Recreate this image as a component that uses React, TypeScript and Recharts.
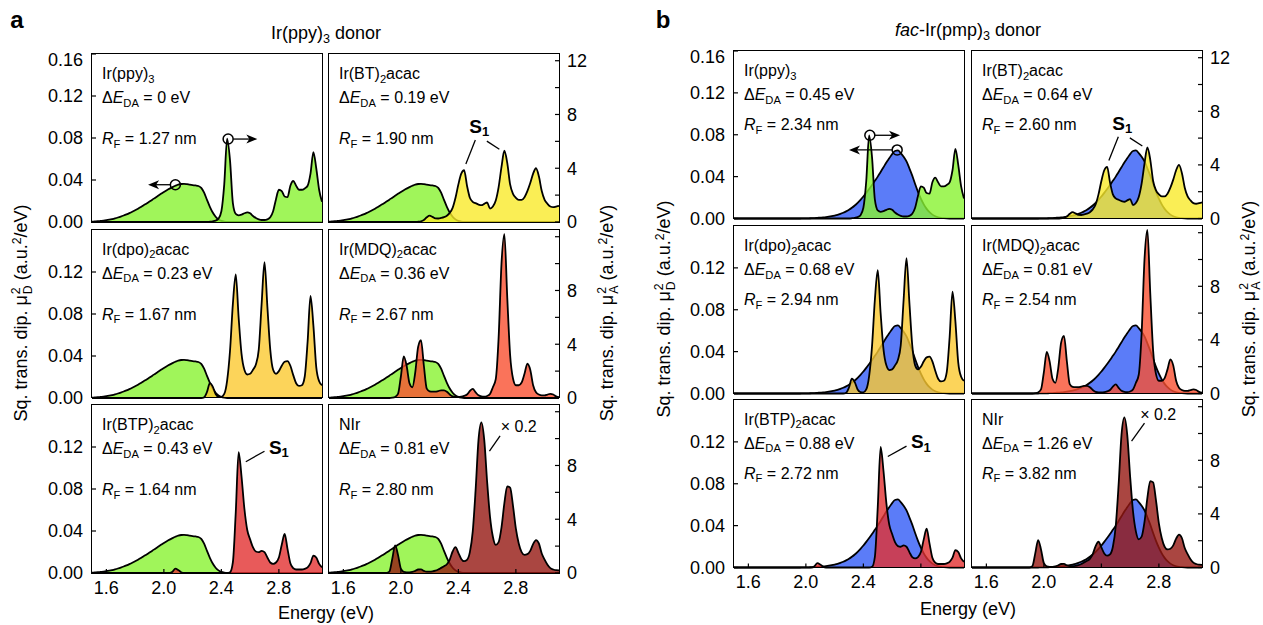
import React from 'react';
import { Area, ComposedChart, ReferenceDot, ReferenceLine, XAxis, YAxis } from 'recharts';

const FONT = "'Liberation Sans', Arial, Helvetica, sans-serif";

// photon energy grid (eV)
const energy = [
  1.5, 1.52, 1.54, 1.56, 1.58, 1.6, 1.62, 1.64, 1.66, 1.68,
  1.7, 1.72, 1.74, 1.76, 1.78, 1.8, 1.82, 1.84, 1.86, 1.88,
  1.9, 1.92, 1.94, 1.96, 1.98, 2.0, 2.02, 2.04, 2.06, 2.08,
  2.1, 2.12, 2.14, 2.16, 2.18, 2.2, 2.22, 2.24, 2.26, 2.28,
  2.3, 2.32, 2.34, 2.36, 2.38, 2.4, 2.42, 2.44, 2.46, 2.48,
  2.5, 2.52, 2.54, 2.56, 2.58, 2.6, 2.62, 2.64, 2.66, 2.68,
  2.7, 2.72, 2.74, 2.76, 2.78, 2.8, 2.82, 2.84, 2.86, 2.88,
  2.9, 2.92, 2.94, 2.96, 2.98, 3.0, 3.02, 3.04, 3.06, 3.08,
  3.1,
];

// donor emission, left axis (a.u.^2/eV)
const donorPpy = [
  0.0003, 0.0005, 0.0007, 0.001, 0.0013, 0.0017, 0.0022, 0.0028, 0.0035, 0.0043,
  0.0052, 0.0062, 0.0073, 0.0085, 0.0098, 0.0112, 0.0127, 0.0143, 0.016, 0.0177,
  0.0195, 0.0213, 0.0232, 0.025, 0.0268, 0.0286, 0.0303, 0.0318, 0.0332, 0.0345,
  0.0356, 0.0362, 0.0363, 0.036, 0.0355, 0.0351, 0.0348, 0.0343, 0.0325, 0.028,
  0.021, 0.0145, 0.009, 0.005, 0.0025, 0.001, 0.0003, 0, 0, 0,
  0, 0, 0, 0, 0, 0, 0, 0, 0, 0,
  0, 0, 0, 0, 0, 0, 0, 0, 0, 0,
  0, 0, 0, 0, 0, 0, 0, 0, 0, 0,
  0,
];

const donorPmp = [
  0, 0, 0, 0, 0, 0, 0, 0, 0, 0,
  0, 0, 0, 0, 0, 0, 0, 0, 0, 0,
  0, 0, 0, 0, 0.0001, 0.0001, 0.0002, 0.0003, 0.0004, 0.0006,
  0.0008, 0.001, 0.0013, 0.0017, 0.0022, 0.0028, 0.0035, 0.0044, 0.0055, 0.0068,
  0.0083, 0.0102, 0.0124, 0.015, 0.0178, 0.021, 0.0245, 0.0282, 0.032, 0.036,
  0.04, 0.0445, 0.049, 0.0535, 0.0575, 0.0615, 0.0645, 0.065, 0.0625, 0.059,
  0.0545, 0.048, 0.041, 0.033, 0.0255, 0.019, 0.0135, 0.0092, 0.006, 0.0037,
  0.0022, 0.0012, 0.0006, 0.0003, 0.0001, 0, 0, 0, 0, 0,
  0,
];

// acceptor absorption, right axis (a.u.^2/eV)
const accPpy = [
  0, 0, 0, 0, 0, 0, 0, 0, 0, 0,
  0, 0, 0, 0, 0, 0, 0, 0, 0, 0,
  0, 0, 0, 0, 0, 0, 0, 0, 0, 0,
  0, 0, 0, 0, 0, 0, 0, 0, 0, 0,
  0, 0.02, 0.05, 0.1, 0.25, 0.8, 2.8, 6.2, 4.6, 1.4,
  0.6, 0.5, 0.55, 0.65, 0.72, 0.65, 0.45, 0.3, 0.2, 0.15,
  0.15, 0.2, 0.35, 0.8, 1.7, 2.4, 2.3, 1.9, 1.85, 2.7,
  3.05, 2.7, 2.4, 2.4, 2.5, 2.7, 3.6, 5.2, 4.0, 2.4,
  1.5,
];

const accBt = [
  0, 0, 0, 0, 0, 0, 0, 0, 0, 0,
  0, 0, 0, 0, 0, 0, 0, 0, 0, 0,
  0, 0, 0, 0, 0, 0, 0, 0, 0, 0,
  0, 0.02, 0.05, 0.15, 0.35, 0.47, 0.38, 0.27, 0.26, 0.3,
  0.36, 0.47, 0.68, 1.05, 1.8, 2.8, 3.6, 3.85, 2.7, 1.8,
  1.5, 1.4, 1.3, 1.25, 1.35, 1.45, 1.0, 1.15, 1.6, 2.6,
  4.1, 5.3, 4.4, 2.8, 2.1, 1.8, 1.65, 1.65, 1.85, 2.3,
  2.9, 3.6, 4.0, 3.4, 2.3, 1.65, 1.35, 1.15, 1.1, 1.15,
  1.2,
];

const accDpo = [
  0, 0, 0, 0, 0, 0, 0, 0, 0, 0,
  0, 0, 0, 0, 0, 0, 0, 0, 0, 0,
  0, 0, 0, 0, 0, 0, 0, 0, 0, 0,
  0, 0, 0, 0, 0, 0, 0, 0, 0, 0.05,
  0.45, 1.1, 0.85, 0.3, 0.1, 0.08, 0.3, 1.3, 3.5, 7.0,
  9.2, 6.0, 3.3, 2.1, 1.75, 1.8, 2.1, 2.5, 3.6, 7.0,
  10.1, 6.8, 3.6, 2.1, 1.8, 2.0, 2.4, 2.7, 2.75, 2.4,
  1.7, 1.1, 0.9, 0.95, 1.6, 4.2, 7.6, 5.4, 2.3, 1.25,
  0.95,
];

const accMdq = [
  0, 0, 0, 0, 0, 0, 0, 0, 0, 0,
  0, 0, 0, 0, 0, 0, 0, 0, 0, 0,
  0, 0, 0.02, 0.08, 0.3, 1.6, 3.1, 2.4, 1.1, 0.8,
  1.9, 3.8, 4.3, 2.4, 0.7, 0.5, 0.47, 0.47, 0.52, 0.57,
  0.57, 0.47, 0.26, 0.12, 0.08, 0.08, 0.1, 0.16, 0.26, 0.52,
  0.68, 0.42, 0.2, 0.12, 0.1, 0.15, 0.3, 0.8, 1.4, 4.5,
  10.0, 12.2, 7.5, 3.2, 1.45, 0.95, 0.95, 1.15, 1.8, 2.55,
  2.1, 0.95, 0.42, 0.26, 0.2, 0.2, 0.26, 0.31, 0.26, 0.12,
  0.06,
];

const accBtp = [
  0, 0, 0, 0, 0, 0, 0, 0, 0, 0,
  0, 0, 0, 0, 0, 0, 0, 0, 0, 0,
  0, 0, 0, 0, 0, 0, 0, 0, 0.1, 0.32,
  0.22, 0.06, 0, 0, 0, 0, 0, 0, 0, 0,
  0, 0, 0, 0, 0, 0, 0, 0, 0.05, 0.8,
  4.5, 9.0, 7.2, 4.8, 3.2, 2.5, 1.9, 1.6, 1.55, 1.65,
  1.55, 1.15, 0.78, 0.68, 0.78, 1.15, 2.1, 2.9, 1.8, 0.72,
  0.36, 0.26, 0.26, 0.26, 0.31, 0.42, 0.73, 1.3, 1.15, 0.68,
  0.42,
];

const accNir = [
  0, 0, 0, 0, 0, 0, 0, 0, 0, 0,
  0, 0, 0, 0, 0, 0, 0, 0, 0, 0,
  0, 0.1, 1.05, 2.05, 1.35, 0.32, 0.08, 0.05, 0.05, 0.08,
  0.16, 0.26, 0.27, 0.16, 0.1, 0.1, 0.12, 0.17, 0.26, 0.38,
  0.5, 0.65, 1.0, 1.6, 1.92, 1.5, 1.05, 0.88, 0.98, 1.55,
  3.1, 6.2, 9.9, 11.2, 9.9, 6.8, 4.2, 2.7, 2.1, 2.3,
  3.4, 5.2, 6.45, 6.35, 5.0, 3.3, 2.2, 1.55, 1.35, 1.4,
  1.65, 2.15, 2.45, 2.2, 1.45, 1.0, 0.62, 0.36, 0.26, 0.21,
  0.2,
];

const table = energy.map((e, i) => ({
  e,
  ppy: donorPpy[i],
  pmp: donorPmp[i],
  a0: accPpy[i],
  a1: accBt[i],
  a2: accDpo[i],
  a3: accMdq[i],
  a4: accBtp[i],
  a5: accNir[i],
}));

// acceptors, row by row
const accKeys = ['a0', 'a1', 'a2', 'a3', 'a4', 'a5'];
const accColors = ['#88f231', '#f9ea2a', '#fbc931', '#f95031', '#e23131', '#951812'];
const accNames = [
  ['Ir(ppy)', '3', ''],
  ['Ir(BT)', '2', 'acac'],
  ['Ir(dpo)', '2', 'acac'],
  ['Ir(MDQ)', '2', 'acac'],
  ['Ir(BTP)', '2', 'acac'],
  ['NIr', '', ''],
];
const dEa = ['0', '0.19', '0.23', '0.36', '0.43', '0.81'];
const rfA = ['1.27', '1.90', '1.67', '2.67', '1.64', '2.80'];
const dEb = ['0.45', '0.64', '0.68', '0.81', '0.88', '1.26'];
const rfB = ['2.34', '2.60', '2.94', '2.54', '2.72', '3.82'];

const xTicks = [1.6, 2.0, 2.4, 2.8];
const leftTicksTop = [0, 0.04, 0.08, 0.12, 0.16];
const leftTicks = [0, 0.04, 0.08, 0.12];
const rightTicks = [0, 2, 4, 6, 8, 10, 12];

// annotation anchors in (eV, left-axis) units
const arrowsA = [
  { at: [2.08, 0.0355], from: 2.045, tip: 1.89 },
  { at: [2.447, 0.079], from: 2.482, tip: 2.65 },
];
const arrowsB = [
  { at: [2.445, 0.0795], from: 2.48, tip: 2.655 },
  { at: [2.635, 0.0655], from: 2.6, tip: 2.3 },
];
const s1Bt = { text: [2.545, 0.091], lines: [[[2.518, 0.078], [2.452, 0.0553]], [[2.598, 0.077], [2.685, 0.0693]]] };
const s1Btp = { text: [2.8, 0.12], lines: [[[2.7, 0.116], [2.57, 0.106]]] };
const scaleA = { text: [2.82, 0.14], lines: [[[2.69, 0.1306], [2.616, 0.116]]] };
const scaleB = { text: [2.795, 0.146], lines: [[[2.7, 0.138], [2.61, 0.1206]]] };

const panels = [
  {
    id: 'a', donorKey: 'ppy', donorColor: '#a0f55a', x0: [92, 329], y0: [54, 229.5, 405], w: 230, h: 168,
    dE: dEa, rf: rfA, rfTop: 85, arrows: arrowsA, scale: scaleA,
  },
  {
    id: 'b', donorKey: 'pmp', donorColor: '#5b7cf8', x0: [734, 972], y0: [51, 226, 399.5], w: 230, h: 167.5,
    dE: dEb, rf: rfB, rfTop: 74, arrows: arrowsB, scale: scaleB,
  },
];

const tickStyle = { fontSize: 18, fill: '#000', fontFamily: FONT };
const tickLine = { stroke: '#000', strokeWidth: 1.2 };
const subStyle: React.CSSProperties = { fontSize: '0.7em', position: 'relative', top: '0.32em' };

const headShape = (dir: number) => (props: any) => (
  <path
    d={`M${props.cx},${props.cy} l${-11 * dir},-4.5 l${3 * dir},4.5 l${-3 * dir},4.5 z`}
    fill="#000"
  />
);

const s1Shape = (props: any) => (
  <text x={props.cx} y={props.cy} textAnchor="middle" dominantBaseline="central"
    fontFamily={FONT} fontSize={19} fontWeight="bold" fill="#000">
    S<tspan fontSize={13} dy={5}>1</tspan>
  </text>
);

const scaleShape = (props: any) => (
  <text x={props.cx} y={props.cy} textAnchor="middle" dominantBaseline="central"
    fontFamily={FONT} fontSize={16} fill="#000">
    × 0.2
  </text>
);

function segs(key: string, lines: number[][][]) {
  return lines.map((l, i) => (
    <ReferenceLine key={key + i} yAxisId="L" ifOverflow="visible" stroke="#000" strokeWidth={1.3}
      segment={[{ x: l[0][0], y: l[0][1] }, { x: l[1][0], y: l[1][1] }]} />
  ));
}

function marks(p: any, idx: number) {
  const out: any[] = [];
  if (idx === 0) {
    p.arrows.forEach((a: any, i: number) => {
      const dir = a.tip > a.at[0] ? 1 : -1;
      out.push(
        <ReferenceLine key={'al' + i} yAxisId="L" ifOverflow="visible" stroke="#000" strokeWidth={1.3}
          segment={[{ x: a.from, y: a.at[1] }, { x: a.tip - dir * 0.03, y: a.at[1] }]} />,
        <ReferenceDot key={'ah' + i} yAxisId="L" x={a.tip} y={a.at[1]} r={1} ifOverflow="visible" shape={headShape(dir)} />,
        <ReferenceDot key={'ac' + i} yAxisId="L" x={a.at[0]} y={a.at[1]} r={5} fill="none" stroke="#000" strokeWidth={1.5} ifOverflow="visible" />,
      );
    });
  }
  const lab = idx === 1 ? s1Bt : idx === 4 ? s1Btp : idx === 5 ? p.scale : null;
  if (lab) {
    out.push(...segs('s', lab.lines));
    out.push(
      <ReferenceDot key="st" yAxisId="L" x={lab.text[0]} y={lab.text[1]} r={1} ifOverflow="visible"
        shape={idx === 5 ? scaleShape : s1Shape} />,
    );
  }
  return out;
}

function Subplot({ p, idx }: { p: any; idx: number }) {
  const col = idx % 2;
  const row = Math.floor(idx / 2);
  const x0 = p.x0[col];
  const y0 = p.y0[row];
  const name = accNames[idx];
  const line = (top: number): React.CSSProperties => ({
    position: 'absolute', left: 70, top: 5 + top - 9, fontSize: 16, lineHeight: '18px', whiteSpace: 'nowrap',
  });
  const rightLabel = (v: number) => (v % 4 === 0 && (row === 0 || v < 12) ? String(v) : '');
  return (
    <div style={{ position: 'absolute', left: x0 - 60, top: y0 - 5 }}>
      <ComposedChart width={p.w + 100} height={p.h + 35} data={table} margin={{ top: 4, right: 0, bottom: 0, left: 0 }}>
        <XAxis dataKey="e" type="number" domain={[1.5, 3.1]} ticks={xTicks} height={30}
          tickFormatter={(v: number) => v.toFixed(1)} tickSize={-4} tickMargin={12}
          tick={row === 2 ? tickStyle : false} axisLine={false} tickLine={tickLine} />
        <XAxis xAxisId="t" orientation="top" dataKey="e" type="number" domain={[1.5, 3.1]} ticks={xTicks}
          height={1} tickSize={-4} tick={false} axisLine={false} tickLine={tickLine} />
        <YAxis yAxisId="L" orientation="left" width={60} type="number" domain={[0, 0.16]}
          ticks={row === 0 ? leftTicksTop : leftTicks} tickFormatter={(v: number) => v.toFixed(2)}
          tickSize={-4} tickMargin={13} tick={col === 0 ? tickStyle : false} axisLine={false} tickLine={tickLine} />
        <YAxis yAxisId="R" orientation="right" width={40} type="number" domain={[0, 12.5]}
          ticks={rightTicks} tickFormatter={rightLabel}
          tickSize={-4} tickMargin={12} tick={col === 1 ? tickStyle : false} axisLine={false} tickLine={tickLine} />
        <Area yAxisId="L" type="monotone" dataKey={p.donorKey} fill={p.donorColor} fillOpacity={1}
          stroke="#000" strokeWidth={1.8} dot={false} activeDot={false} isAnimationActive={false} />
        <Area yAxisId="R" type="monotone" dataKey={accKeys[idx]} fill={accColors[idx]} fillOpacity={0.8}
          stroke="#000" strokeWidth={1.8} dot={false} activeDot={false} isAnimationActive={false} />
        {marks(p, idx)}
      </ComposedChart>
      <div style={{
        position: 'absolute', left: 60 - 0.75, top: 5 - 0.75, width: p.w + 1.5, height: p.h + 1.5,
        border: '1.5px solid #000', boxSizing: 'border-box', pointerEvents: 'none',
      }} />
      <div style={line(20)}>
        {name[0]}
        {name[1] && <span style={subStyle}>{name[1]}</span>}
        {name[2]}
      </div>
      <div style={line(44)}>
        Δ<i>E</i><span style={subStyle}>DA</span> = {p.dE[idx]} eV
      </div>
      <div style={line(p.rfTop)}>
        <i>R</i><span style={subStyle}>F</span> = {p.rf[idx]} nm
      </div>
    </div>
  );
}

function YTitle({ x, y, s }: { x: number; y: number; s: string }) {
  return (
    <div style={{
      position: 'absolute', left: x, top: y, transform: 'translate(-50%, -50%) rotate(-90deg)',
      fontSize: 18, whiteSpace: 'nowrap',
    }}>
      Sq. trans. dip. μ
      <span style={{ display: 'inline-block', verticalAlign: 'middle', lineHeight: 1, fontSize: '0.68em', marginLeft: 1 }}>
        <span style={{ display: 'block' }}>2</span>
        <span style={{ display: 'block' }}>{s}</span>
      </span>
      {' '}(a.u.<span style={{ fontSize: '0.68em', position: 'relative', top: '-0.5em' }}>2</span>/eV)
    </div>
  );
}

function Centered({ x, y, size, bold, children }: any) {
  return (
    <div style={{
      position: 'absolute', left: x, top: y, transform: 'translate(-50%, -50%)', fontSize: size,
      fontWeight: bold ? 'bold' : 'normal', whiteSpace: 'nowrap',
    }}>
      {children}
    </div>
  );
}

export default function App() {
  return (
    <div style={{
      position: 'absolute', left: 0, top: 0, width: 1263, height: 625, background: '#fff',
      fontFamily: FONT, color: '#000', overflow: 'hidden',
    }}>
      <Centered x={17} y={20} size={24} bold>a</Centered>
      <Centered x={663} y={20} size={24} bold>b</Centered>
      <Centered x={326} y={33} size={18}>
        Ir(ppy)<span style={subStyle}>3</span> donor
      </Centered>
      <Centered x={968} y={30} size={18}>
        <i>fac</i>-Ir(pmp)<span style={subStyle}>3</span> donor
      </Centered>
      <YTitle x={22} y={313} s="D" />
      <YTitle x={608} y={313} s="A" />
      <YTitle x={665} y={309} s="D" />
      <YTitle x={1250} y={309} s="A" />
      <Centered x={326} y={613} size={18}>Energy (eV)</Centered>
      <Centered x={968} y={609} size={18}>Energy (eV)</Centered>
      {panels.map((p) => [0, 1, 2, 3, 4, 5].map((i) => <Subplot key={p.id + i} p={p} idx={i} />))}
    </div>
  );
}
